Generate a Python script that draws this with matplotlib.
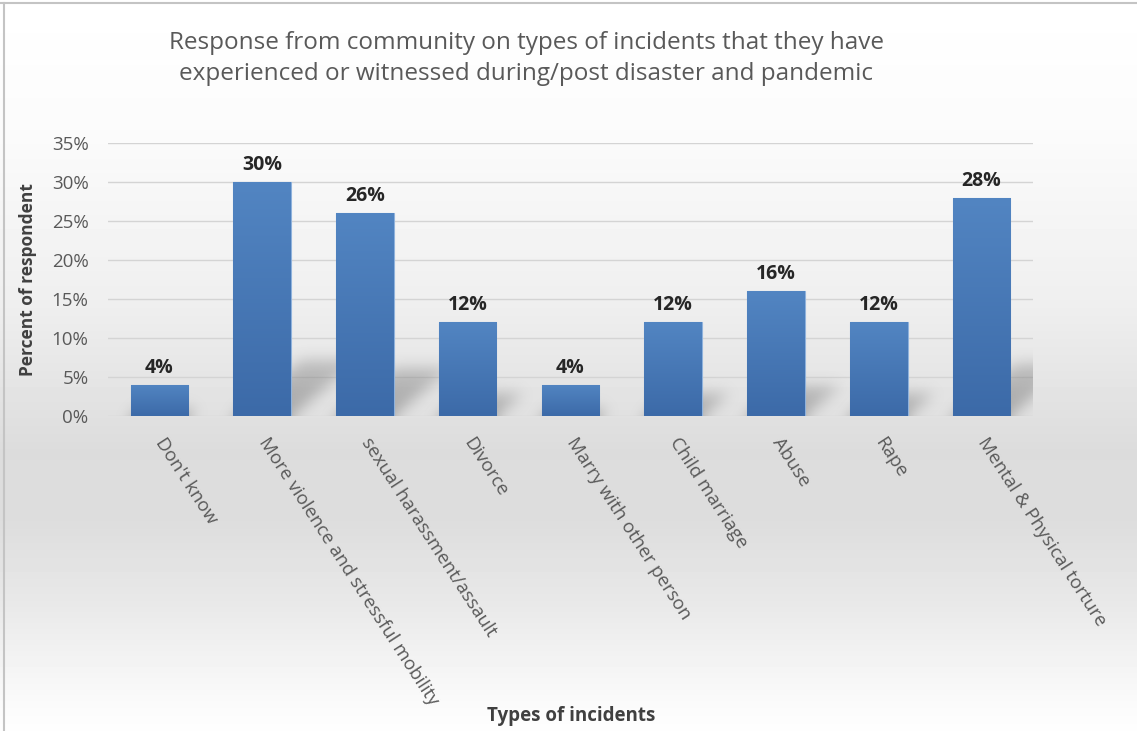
import numpy as np
import matplotlib
matplotlib.use("Agg")
import matplotlib.pyplot as plt

# ---- data ----
categories = ["Don't know", "More violence and stressful mobility",
              "sexual harassment/assault", "Divorce", "Marry with other person",
              "Child marriage", "Abuse", "Rape", "Mental & Physical torture"]
values = [4, 30, 26, 12, 4, 12, 16, 12, 28]
yticks = [0, 5, 10, 15, 20, 25, 30, 35]
ytick_labels = ["0%", "5%", "10%", "15%", "20%", "25%", "30%", "35%"]

plt.rcParams['font.family'] = ['Open Sans', 'DejaVu Sans']

fig = plt.figure(figsize=(11.37, 7.31), dpi=100)

# background gradient over whole figure
bg = fig.add_axes([0, 0, 1, 1], zorder=-5)
rows = np.arange(731)
stops_y = [0, 130, 300, 450, 520, 600, 700, 731]
stops_g = [255, 251, 239, 220, 221, 232, 250, 254]
g = np.interp(rows, stops_y, stops_g) / 255.0
grad = np.repeat(g[:, None], 4, axis=1)
bg.imshow(grad, cmap='gray', vmin=0, vmax=1, aspect='auto', extent=[0, 1, 0, 1], origin='upper')
bg.plot([0.0035, 0.0035], [0, 0.996], color='#c4c4c4', lw=1.5)
bg.plot([0, 1], [0.996, 0.996], color='#c4c4c4', lw=1.5)
bg.set_xlim(0, 1)
bg.set_ylim(0, 1)
bg.axis('off')

ax = fig.add_axes([0.095, 0.431, 0.8135, 0.373])
ax.set_facecolor('none')
x = np.arange(len(categories))
w = 0.56

# pixels per data unit (for an even blur)
px_x = 0.8135 * 1137 / len(categories)
px_y = 0.373 * 731 / 35.0


def gauss_blur(a, sx, sy):
    def k(s):
        r = int(3 * s) + 1
        t = np.arange(-r, r + 1)
        kk = np.exp(-0.5 * (t / s) ** 2)
        return kk / kk.sum()
    kx, ky = k(sx), k(sy)
    a = np.apply_along_axis(lambda r: np.convolve(r, kx, mode='same'), 1, a)
    a = np.apply_along_axis(lambda c: np.convolve(c, ky, mode='same'), 0, a)
    return a


# soft perspective shadows behind the bars
for xi, v in zip(x, values):
    shift = 2.2 * v / 100.0
    top = 0.24 * v
    x_lo, x_hi = xi - w / 2 - 0.3, xi + w / 2 + shift + 0.4
    y_lo, y_hi = -4, top + 5
    nx, ny = 260, 160
    xs = np.linspace(x_lo, x_hi, nx)
    ys = np.linspace(y_lo, y_hi, ny)
    X, Y = np.meshgrid(xs, ys)
    t = np.clip(Y / top, 0, None)
    mask = ((Y <= top) & (X >= xi - w / 2 + t * shift) & (X <= xi + w / 2 + t * shift)).astype(float)
    mask *= (1 - 0.35 * np.clip(t, 0, 1))
    sig = 7.0
    sx = sig / ((x_hi - x_lo) / nx * px_x)
    sy = sig / ((y_hi - y_lo) / ny * px_y)
    mask = gauss_blur(mask, sx, sy)
    rgba = np.zeros((ny, nx, 4))
    rgba[..., :3] = 0.4
    rgba[..., 3] = 0.48 * mask
    ax.imshow(rgba, extent=[x_lo, x_hi, y_lo, y_hi], origin='lower',
              aspect='auto', zorder=1, interpolation='bilinear')

bars = ax.bar(x, values, width=w, color='#4a7cb8', edgecolor='#8fb2dc',
              linewidth=0.8, zorder=3)
top_c = np.array([82, 133, 194]) / 255.0
bot_c = np.array([60, 106, 168]) / 255.0
ramp = np.linspace(0, 1, 100)[:, None]
img = top_c[None, None, :] * (1 - ramp[:, :, None]) + bot_c[None, None, :] * ramp[:, :, None]
img = np.repeat(img, 2, axis=1)
for b in bars:
    x0, y0 = b.get_x(), b.get_y()
    im = ax.imshow(img, extent=[x0, x0 + b.get_width(), y0, y0 + b.get_height()],
                   aspect='auto', origin='upper', zorder=3.5)
    im.set_clip_path(b)

for xi, v in zip(x, values):
    ax.text(xi, v + 0.9, f"{v}%", ha='center', va='bottom', fontsize=14,
            fontweight='bold', color='#262626', zorder=5)

ax.set_xlim(-0.5, len(categories) - 0.5)
ax.set_ylim(0, 35)
ax.set_yticks(yticks)
ax.set_yticklabels(ytick_labels)
ax.yaxis.grid(True, color='#d4d4d4', lw=1)
ax.set_axisbelow(True)
for s in ax.spines.values():
    s.set_visible(False)
ax.tick_params(axis='both', length=0, labelsize=13.5, labelcolor='#595959')
ax.tick_params(axis='y', pad=14)
ax.tick_params(axis='x', pad=17)
ax.set_xticks(x)
ax.set_xticklabels(categories, rotation=-57, ha='left', rotation_mode='anchor')
for lab in ax.get_xticklabels():
    lab.set_va('center')

fig.text(0.025, 0.617, "Percent of respondent", rotation=90, ha='center', va='center',
         fontsize=12.5, fontweight='bold', color='#404040')
fig.text(0.502, 0.02, "Types of incidents", ha='center', va='center',
         fontsize=13.5, fontweight='bold', color='#404040')
fig.text(0.463, 0.92, "Response from community on types of incidents that they have\n"
         "experienced or witnessed during/post disaster and pandemic",
         ha='center', va='center', fontsize=17.5, color='#595959', linespacing=1.35)

fig.savefig("out.png", dpi=100)
